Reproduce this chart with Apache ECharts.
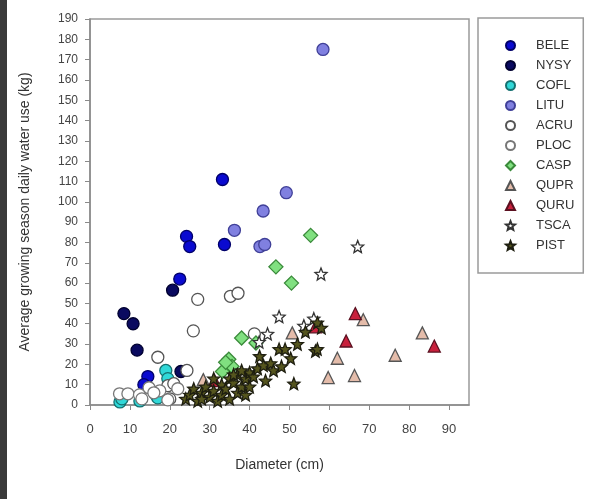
<!DOCTYPE html>
<html>
<head>
<meta charset="utf-8">
<script src="https://cdn.jsdelivr.net/npm/echarts@6/dist/echarts.min.js"></script>
<style>
html,body{margin:0;padding:0;background:#fff;}
#strip{position:absolute;left:0;top:0;width:7px;height:499px;background:#3a3a3a;z-index:10;}
#chart{width:589px;height:499px;}
</style>
</head>
<body>
<div id="strip"></div>
<div id="chart"></div>
<script>
// Diameter (cm), water use (kg) pairs per species
const BELE = [[33.2,111],[24.2,83],[25,78],[33.7,79],[22.5,62],[14.5,14],[13.5,10]];
const NYSY = [[8.5,45],[10.8,40],[11.8,27],[20.7,56.5],[22.8,16.5]];
const COFL = [[7.5,1.5],[8,3],[12.5,2],[16.5,5],[17,3.5],[19,17],[19.5,13]];
const LITU = [[58.4,175],[49.2,104.5],[43.4,95.5],[36.2,86],[42.6,78],[43.8,79]];
const ACRU = [[27,52],[35.2,53.5],[37.1,55],[25.9,36.5],[41.2,35],[17,23.5],[24.3,17],[19.5,9.5],[21,10.5],[20,3]];
const PLOC = [[7.4,5.5],[9.5,5.5],[12.4,5],[14.8,8.5],[17.5,7],[19.5,2.5],[22,8],[16,6],[13,3]];
const CASP = [[55.3,83.5],[50.5,60],[46.6,68],[38,33],[34.8,22.5],[35.6,19],[33.2,16.5],[34,21],[41.6,30.5]];
const QUPR = [[68.5,42],[83.3,35.5],[76.5,24.5],[62,23],[59.7,13.5],[66.3,14.5],[50.7,35.5],[28.4,12.5]];
const QURU = [[66.5,45],[64.2,31.5],[86.3,29],[56.5,38.5],[31.2,12]];
const TSCA = [[67.1,78],[57.9,64.5],[56.1,42.5],[47.4,43.5],[53.6,39],[42.4,31],[44.5,35]];
const PIST = [[24,3],[25,5],[26,8],[27,2],[28,6],[29,9],[30,4],[31,7],[32,2],[33,10],[33,5],[34,8],[35,13],[35,3],[36,11],[37,6],[37,15],[38,9],[39,5],[39,13],[40,16],[40,9],[41,14],[42,18],[42.5,24],[43.5,19.5],[44,12],[45.3,20.5],[46,17],[47.4,27.5],[48.9,27.5],[48,19],[50.3,23],[51.1,10.5],[52,30],[54,36],[56.5,26.5],[57,27.5],[57,40.5],[58,38],[31,13],[28,3],[36,15],[38,17]];
const xTicks = [0,10,20,30,40,50,60,70,80,90];

const star = 'path://M50,0L62.9,32.2L97.6,34.5L70.9,56.8L79.4,90.5L50,72L20.6,90.5L29.1,56.8L2.4,34.5L37.1,32.2Z';

function s(name, data, symbol, size, color, border) {
  return {
    name: name, type: 'scatter', data: data, symbol: symbol, symbolSize: size,
    itemStyle: { color: color, borderColor: border, borderWidth: 1.3, opacity: 1 },
    emphasis: { disabled: true }
  };
}

const chart = echarts.init(document.getElementById('chart'), null, { renderer: 'canvas' });
const font = 'Liberation Sans, Arial, sans-serif';
chart.setOption({
  animation: false,
  backgroundColor: '#ffffff',
  textStyle: { fontFamily: font },
  grid: { left: 90, top: 19, right: 120, bottom: 94, show: true, borderColor: '#9a9a9a', borderWidth: 1.5 },
  legend: {
    orient: 'vertical', left: 478, top: 18,
    padding: [21, 9, 21, 27],
    itemWidth: 9, itemHeight: 9, itemGap: 7,
    borderColor: '#9a9a9a', borderWidth: 1.5,
    textStyle: { fontSize: 13, lineHeight: 13, color: '#333', fontFamily: font, padding: [0, 0, 0, 16] },
    data: ['BELE','NYSY','COFL','LITU','ACRU','PLOC','CASP','QUPR','QURU','TSCA','PIST']
  },
  xAxis: {
    type: 'value', min: 0, max: 95, interval: 10,
    name: 'Diameter (cm)', nameLocation: 'middle', nameGap: 53,
    nameTextStyle: { fontSize: 14, color: '#333' },
    axisLine: { show: true, lineStyle: { color: '#8a8a8a', width: 1.5 } },
    axisTick: { show: true, inside: false, length: 5, customValues: xTicks, lineStyle: { color: '#8a8a8a' } },
    axisLabel: { fontSize: 13, color: '#444', margin: 18, customValues: xTicks },
    splitLine: { show: false }
  },
  yAxis: {
    type: 'value', min: 0, max: 190, interval: 10,
    name: 'Average growing season daily water use (kg)', nameLocation: 'middle', nameGap: 58,
    nameTextStyle: { fontSize: 14, color: '#333' },
    axisLine: { show: true, lineStyle: { color: '#8a8a8a', width: 1.5 } },
    axisTick: { show: true, inside: false, length: 5, lineStyle: { color: '#8a8a8a' } },
    axisLabel: { fontSize: 12, color: '#444', margin: 12 },
    splitLine: { show: false }
  },
  series: [
    s('BELE', BELE, 'circle', 12, '#0a0ad0', '#00006a'),
    s('NYSY', NYSY, 'circle', 12, '#0a0a60', '#000030'),
    s('COFL', COFL, 'circle', 12, '#30d8d8', '#157070'),
    s('LITU', LITU, 'circle', 12, '#8080e0', '#404098'),
    s('ACRU', ACRU, 'circle', 12, '#ffffff', '#555555'),
    s('PLOC', PLOC, 'circle', 12, '#ffffff', '#777777'),
    s('CASP', CASP, 'diamond', 14, '#80e080', '#3a8a3a'),
    s('QUPR', QUPR, 'triangle', 12, '#e4bcaa', '#555555'),
    s('QURU', QURU, 'triangle', 12, '#c8203c', '#5a1020'),
    s('TSCA', TSCA, star, 12, '#ffffff', '#333333'),
    s('PIST', PIST, star, 12, '#55551e', '#1e1e10')
  ]
});
</script>
</body>
</html>
